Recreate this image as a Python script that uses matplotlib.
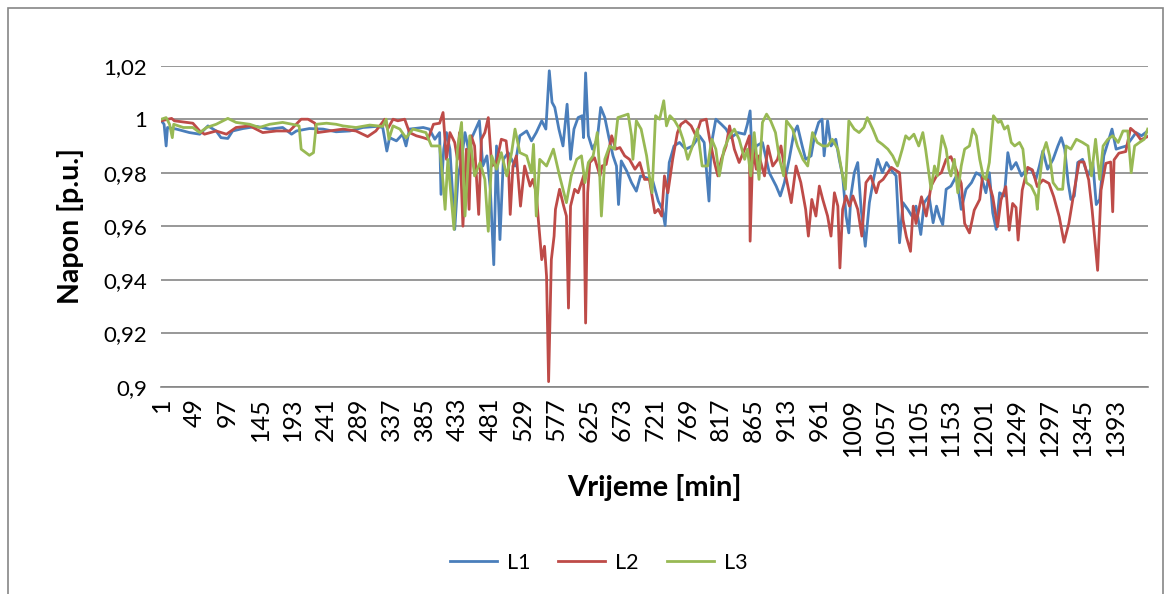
import matplotlib
matplotlib.use("Agg")
import matplotlib.pyplot as plt
from matplotlib.patches import Rectangle

plt.rcParams['font.family'] = ['Lato', 'DejaVu Sans']

# minute index and voltage [p.u.], per phase
l1_min = [1, 5, 8, 10, 23, 42, 57, 69, 81, 88, 98, 105, 120, 140, 159, 178, 191, 198, 217, 237,
          256, 276, 295, 315, 324, 330, 334, 344, 353, 358, 363, 383, 392, 400, 407, 409, 413, 417,
          422, 429, 434, 439, 444, 449, 453, 465, 470, 476, 481, 486, 490, 495, 500, 507, 517, 524,
          534, 541, 548, 556, 562, 567, 571, 575, 581, 587, 593, 598, 603, 609, 615, 617, 620, 624,
          630, 637, 642, 648, 654, 660, 665, 668, 672, 680, 687, 694, 700, 709, 718, 726, 732, 736,
          742, 749, 757, 766, 776, 786, 793, 800, 803, 810, 818, 825, 832, 842, 852, 856, 860, 863,
          869, 878, 888, 898, 904, 910, 917, 924, 929, 936, 941, 949, 954, 960, 965, 968, 973, 978,
          985, 990, 995, 1000, 1004, 1007, 1012, 1017, 1022, 1028, 1034, 1040, 1046, 1053, 1059,
          1065, 1073, 1078, 1083, 1090, 1096, 1102, 1109, 1114, 1121, 1127, 1132, 1136, 1141, 1146,
          1153, 1161, 1168, 1175, 1183, 1190, 1197, 1204, 1209, 1214, 1219, 1224, 1231, 1236, 1241,
          1248, 1256, 1263, 1270, 1277, 1282, 1287, 1294, 1302, 1309, 1314, 1319, 1324, 1328, 1333,
          1338, 1345, 1353, 1360, 1365, 1370, 1376, 1382, 1388, 1394, 1401, 1409, 1416, 1423, 1431,
          1440]
l1_val = [0.9994, 0.9981, 0.990, 0.9969, 0.9963, 0.995, 0.9944, 0.9975, 0.9956, 0.9931, 0.9928,
          0.9956, 0.9965, 0.9973, 0.9963, 0.9969, 0.9944, 0.9956, 0.9965, 0.9963, 0.9953, 0.9956,
          0.9969, 0.9973, 0.9969, 0.9881, 0.9931, 0.9919, 0.9944, 0.990, 0.9963, 0.9969, 0.9963,
          0.9925, 0.995, 0.9719, 0.9888, 0.995, 0.9888, 0.9588, 0.9788, 0.985, 0.995, 0.9888, 0.9925,
          0.9994, 0.9825, 0.9863, 0.9738, 0.9456, 0.990, 0.955, 0.985, 0.9875, 0.9825, 0.9938, 0.9956,
          0.9919, 0.995, 0.9994, 0.9963, 1.0181, 1.0063, 1.0044, 0.9963, 0.990, 1.0056, 0.985, 0.9963,
          1.0006, 1.0013, 0.9931, 1.0173, 0.9938, 0.9888, 0.9925, 1.0044, 1.0006, 0.9931, 0.9863,
          0.9825, 0.9681, 0.9844, 0.9806, 0.9763, 0.9731, 0.9788, 0.9781, 0.9769, 0.9694, 0.9663,
          0.9603, 0.9838, 0.990, 0.9913, 0.9888, 0.990, 0.9938, 0.9913, 0.9694, 0.990, 1.0, 0.9981,
          0.9963, 0.9931, 0.995, 0.9944, 0.9981, 1.0031, 0.985, 0.990, 0.9913, 0.980, 0.975, 0.9713,
          0.9763, 0.985, 0.995, 0.9975, 0.990, 0.985, 0.9863, 0.9938, 0.9988, 1.0, 0.9863, 0.9994,
          0.990, 0.9925, 0.985, 0.9788, 0.9638, 0.9575, 0.9713, 0.980, 0.9838, 0.9663, 0.9525, 0.9688,
          0.9775, 0.985, 0.980, 0.9838, 0.9813, 0.9788, 0.9538, 0.9688, 0.9663, 0.9638, 0.9675,
          0.9569, 0.9688, 0.9713, 0.9613, 0.9675, 0.9638, 0.9606, 0.9738, 0.975, 0.9788, 0.9663,
          0.9738, 0.9763, 0.980, 0.9788, 0.9725, 0.980, 0.965, 0.9588, 0.9725, 0.9713, 0.9875, 0.9813,
          0.9838, 0.9788, 0.9813, 0.9813, 0.9775, 0.9825, 0.9881, 0.9813, 0.985, 0.990, 0.9931,
          0.9888, 0.9763, 0.970, 0.9713, 0.9838, 0.985, 0.9788, 0.9838, 0.9681, 0.970, 0.9863, 0.9913,
          0.9963, 0.9888, 0.9894, 0.990, 0.9925, 0.995, 0.9938, 0.9956]

l2_min = [1, 16, 20, 47, 57, 64, 81, 96, 110, 130, 149, 169, 188, 205, 215, 225, 229, 246, 266,
          285, 302, 314, 327, 331, 339, 346, 356, 363, 373, 383, 390, 398, 407, 412, 417, 422, 429,
          433, 436, 441, 446, 450, 453, 458, 464, 468, 473, 478, 483, 490, 497, 504, 507, 510, 514,
          519, 525, 531, 539, 543, 548, 551, 556, 560, 563, 566, 570, 574, 576, 582, 588, 592, 595,
          598, 604, 609, 614, 617, 620, 623, 626, 633, 641, 644, 650, 658, 664, 670, 677, 684, 692,
          699, 706, 713, 721, 726, 731, 735, 740, 747, 754, 759, 766, 774, 781, 788, 796, 801, 808,
          813, 818, 825, 830, 837, 844, 852, 859, 860, 864, 869, 873, 881, 886, 893, 900, 905, 912,
          920, 927, 934, 941, 945, 950, 956, 961, 966, 973, 978, 983, 988, 991, 995, 1000, 1005,
          1010, 1017, 1023, 1029, 1036, 1044, 1048, 1054, 1066, 1078, 1083, 1088, 1094, 1098, 1102,
          1110, 1117, 1124, 1132, 1139, 1146, 1153, 1161, 1168, 1173, 1180, 1187, 1195, 1199, 1207,
          1214, 1221, 1226, 1233, 1238, 1243, 1248, 1251, 1257, 1265, 1272, 1279, 1287, 1296, 1303,
          1311, 1318, 1325, 1333, 1340, 1347, 1354, 1359, 1367, 1372, 1379, 1386, 1389, 1391, 1398,
          1408, 1415, 1423, 1430, 1440]
l2_val = [0.9994, 1.0003, 0.9994, 0.9985, 0.9956, 0.9944, 0.9956, 0.9944, 0.9969, 0.9975, 0.995,
          0.9956, 0.9956, 1.0, 1.0, 0.9985, 0.995, 0.9956, 0.9963, 0.9956, 0.9935, 0.9956, 1.0,
          0.9963, 1.0, 0.9994, 1.0, 0.995, 0.9938, 0.9931, 0.9925, 0.9981, 0.9985, 1.0025, 0.985,
          0.995, 0.9913, 0.985, 0.995, 0.960, 0.9888, 0.9663, 0.9938, 0.990, 0.9644, 0.9925, 0.995,
          1.0006, 0.9825, 0.9838, 0.9925, 0.9919, 0.985, 0.9644, 0.9825, 0.9863, 0.9675, 0.9825,
          0.975, 0.9775, 0.9725, 0.9625, 0.9475, 0.9525, 0.9413, 0.9019, 0.9475, 0.9563, 0.9663,
          0.9738, 0.9675, 0.9638, 0.9294, 0.9675, 0.9738, 0.9725, 0.9763, 0.9788, 0.9238, 0.9725,
          0.9838, 0.9856, 0.9788, 0.9825, 0.9831, 0.9938, 0.9888, 0.9894, 0.9863, 0.985, 0.9813,
          0.9838, 0.9775, 0.9775, 0.965, 0.9663, 0.9638, 0.9788, 0.9725, 0.985, 0.995, 0.9981,
          0.9994, 0.9975, 0.9938, 0.9994, 1.0, 0.9925, 0.9838, 0.9788, 0.985, 0.990, 0.9975, 0.9888,
          0.9838, 0.9888, 0.9938, 0.9544, 0.9888, 0.9813, 0.9863, 0.9788, 0.990, 0.9825, 0.985, 0.990,
          0.9788, 0.9688, 0.9825, 0.9763, 0.9663, 0.9563, 0.970, 0.9638, 0.975, 0.970, 0.9638, 0.9563,
          0.9725, 0.9675, 0.9444, 0.9663, 0.9713, 0.9675, 0.9713, 0.9663, 0.9563, 0.9763, 0.9788,
          0.9725, 0.9763, 0.9775, 0.982, 0.980, 0.9625, 0.956, 0.9506, 0.9675, 0.961, 0.971, 0.9638,
          0.975, 0.9788, 0.980, 0.985, 0.986, 0.981, 0.976, 0.961, 0.9575, 0.966, 0.970, 0.9785,
          0.9773, 0.971, 0.9598, 0.9698, 0.9748, 0.9585, 0.9685, 0.967, 0.9548, 0.9735, 0.982, 0.981,
          0.9748, 0.9773, 0.976, 0.971, 0.9635, 0.954, 0.961, 0.9735, 0.984, 0.984, 0.9773, 0.966,
          0.9435, 0.9735, 0.9835, 0.984, 0.9654, 0.9848, 0.9873, 0.9879, 0.9966, 0.9948, 0.9923,
          0.9935]

l3_min = [1, 8, 13, 17, 19, 33, 47, 57, 67, 81, 98, 110, 130, 144, 159, 178, 198, 202, 205, 217,
          223, 227, 242, 256, 266, 285, 305, 324, 329, 333, 339, 349, 358, 368, 387, 395, 407, 412,
          415, 419, 428, 433, 439, 444, 451, 458, 466, 473, 478, 483, 490, 497, 505, 512, 517, 524,
          534, 541, 544, 548, 553, 563, 573, 582, 592, 599, 607, 614, 619, 624, 631, 637, 640, 643,
          648, 655, 662, 667, 675, 682, 687, 689, 694, 701, 709, 713, 717, 722, 728, 734, 738, 743,
          750, 757, 762, 769, 776, 783, 790, 798, 804, 810, 815, 822, 830, 837, 844, 852, 856, 861,
          866, 873, 878, 884, 890, 897, 903, 909, 913, 922, 929, 937, 944, 951, 958, 966, 973, 980,
          988, 995, 999, 1004, 1012, 1019, 1026, 1031, 1039, 1046, 1053, 1061, 1068, 1075, 1082,
          1087, 1092, 1099, 1106, 1112, 1116, 1124, 1129, 1133, 1140, 1146, 1150, 1153, 1158, 1163,
          1168, 1173, 1180, 1185, 1190, 1195, 1200, 1204, 1209, 1215, 1222, 1226, 1231, 1236, 1241,
          1246, 1253, 1258, 1263, 1270, 1277, 1279, 1282, 1287, 1292, 1297, 1302, 1309, 1316, 1321,
          1328, 1336, 1345, 1353, 1358, 1364, 1370, 1375, 1382, 1389, 1397, 1404, 1411, 1416, 1421,
          1428, 1435, 1440]
l3_val = [1.0, 1.0006, 0.9981, 0.9931, 0.9981, 0.9969, 0.9969, 0.995, 0.9969, 0.9981, 1.0003,
          0.9988, 0.9981, 0.9969, 0.9981, 0.9988, 0.9978, 0.9975, 0.9888, 0.9865, 0.9875, 0.9981,
          0.9985, 0.9981, 0.9975, 0.9969, 0.9978, 0.9973, 1.0, 0.9925, 0.9975, 0.9963, 0.993, 0.9963,
          0.995, 0.990, 0.990, 0.9763, 0.9663, 0.985, 0.9588, 0.9888, 0.9988, 0.9638, 0.9938, 0.9788,
          0.9838, 0.9775, 0.9581, 0.9863, 0.9813, 0.9875, 0.9788, 0.9875, 0.9963, 0.9875, 0.9863,
          0.980, 0.9906, 0.9638, 0.985, 0.9825, 0.9888, 0.9788, 0.9688, 0.9788, 0.985, 0.9863,
          0.9763, 0.9838, 0.9863, 0.995, 0.9825, 0.9638, 0.985, 0.990, 0.9888, 1.0006, 1.0013, 1.0019,
          0.9938, 0.985, 0.9994, 0.9963, 0.9863, 0.9788, 0.9725, 1.0013, 1.0, 1.0069, 0.9975, 1.0013,
          0.9994, 0.9963, 0.9925, 0.985, 0.990, 0.9963, 0.9825, 0.9825, 0.9925, 0.9888, 0.9788,
          0.9888, 0.9938, 0.9963, 0.9925, 0.985, 0.9888, 0.9788, 0.995, 0.9775, 0.9988, 1.0019,
          0.9994, 0.995, 0.985, 0.9788, 0.9994, 0.9963, 0.990, 0.985, 0.9825, 0.995, 0.9913, 0.990,
          0.990, 0.9925, 0.9888, 0.9788, 0.9738, 0.9994, 0.9963, 0.995, 0.9969, 1.0006, 0.9963,
          0.9919, 0.9906, 0.9888, 0.9863, 0.9825, 0.9888, 0.9938, 0.9925, 0.9944, 0.990, 0.995,
          0.9888, 0.9738, 0.9825, 0.9788, 0.9938, 0.9888, 0.9813, 0.9788, 0.985, 0.9725, 0.9825,
          0.9888, 0.990, 0.9963, 0.9938, 0.985, 0.9788, 0.9775, 0.9838, 1.0013, 0.9988, 0.9994,
          0.9963, 0.9975, 0.9913, 0.990, 0.9913, 0.9888, 0.9763, 0.975, 0.9713, 0.9663, 0.9763,
          0.9875, 0.9913, 0.9863, 0.9763, 0.9738, 0.9738, 0.990, 0.9888, 0.9925, 0.9913, 0.990,
          0.9788, 0.9925, 0.9775, 0.990, 0.9925, 0.9938, 0.9913, 0.9956, 0.9956, 0.980, 0.990,
          0.9913, 0.9925, 0.9963]

tick_pos = list(range(1, 1441, 48))
y_ticks = [0.9, 0.92, 0.94, 0.96, 0.98, 1.0, 1.02]
y_labels = ['0,9', '0,92', '0,94', '0,96', '0,98', '1', '1,02']

W, H = 1171, 594
fig = plt.figure(figsize=(W / 100, H / 100), dpi=100)
ax = fig.add_axes([161 / W, 1 - 386.7 / H, (1148 - 161) / W, (386.7 - 65.7) / H])

ax.plot(l1_min, l1_val, color='#4A7EBB', lw=2.0, label='L1')
ax.plot(l2_min, l2_val, color='#BE4B48', lw=2.0, label='L2')
ax.plot(l3_min, l3_val, color='#98B954', lw=2.0, label='L3')

ax.set_xlim(0.5, 1440.5)
ax.set_ylim(0.9, 1.02)
ax.set_yticks(y_ticks)
ax.set_yticklabels(y_labels, fontsize=16)
ax.set_xticks(tick_pos)
ax.set_xticklabels([str(t) for t in tick_pos], rotation=90, fontsize=18)
ax.tick_params(axis='y', length=0, pad=10)
ax.tick_params(axis='x', length=0, pad=8)
ax.grid(axis='y', color='#868686', lw=1.2)
ax.set_axisbelow(True)
for s in ['left', 'right', 'top']:
    ax.spines[s].set_visible(False)
ax.spines['bottom'].set_color('#868686')
ax.spines['bottom'].set_linewidth(1.2)

ax.set_xlabel('Vrijeme [min]', fontsize=21, fontweight='bold', labelpad=13)
ax.set_ylabel('Napon [p.u.]', fontsize=20.5, fontweight='bold', labelpad=14)

fig.legend(loc='center', bbox_to_anchor=(0.511, 1 - 563 / H), ncol=3, frameon=False,
           fontsize=15.5, handlelength=2.2, columnspacing=1.3, handletextpad=0.45)

# chart area border
fig.add_artist(Rectangle((8 / W, -0.1), (1163 - 8) / W, 1.1 - 8 / H, transform=fig.transFigure,
                         fill=False, edgecolor='#868686', lw=1.2))

fig.savefig('out.png', dpi=100)
